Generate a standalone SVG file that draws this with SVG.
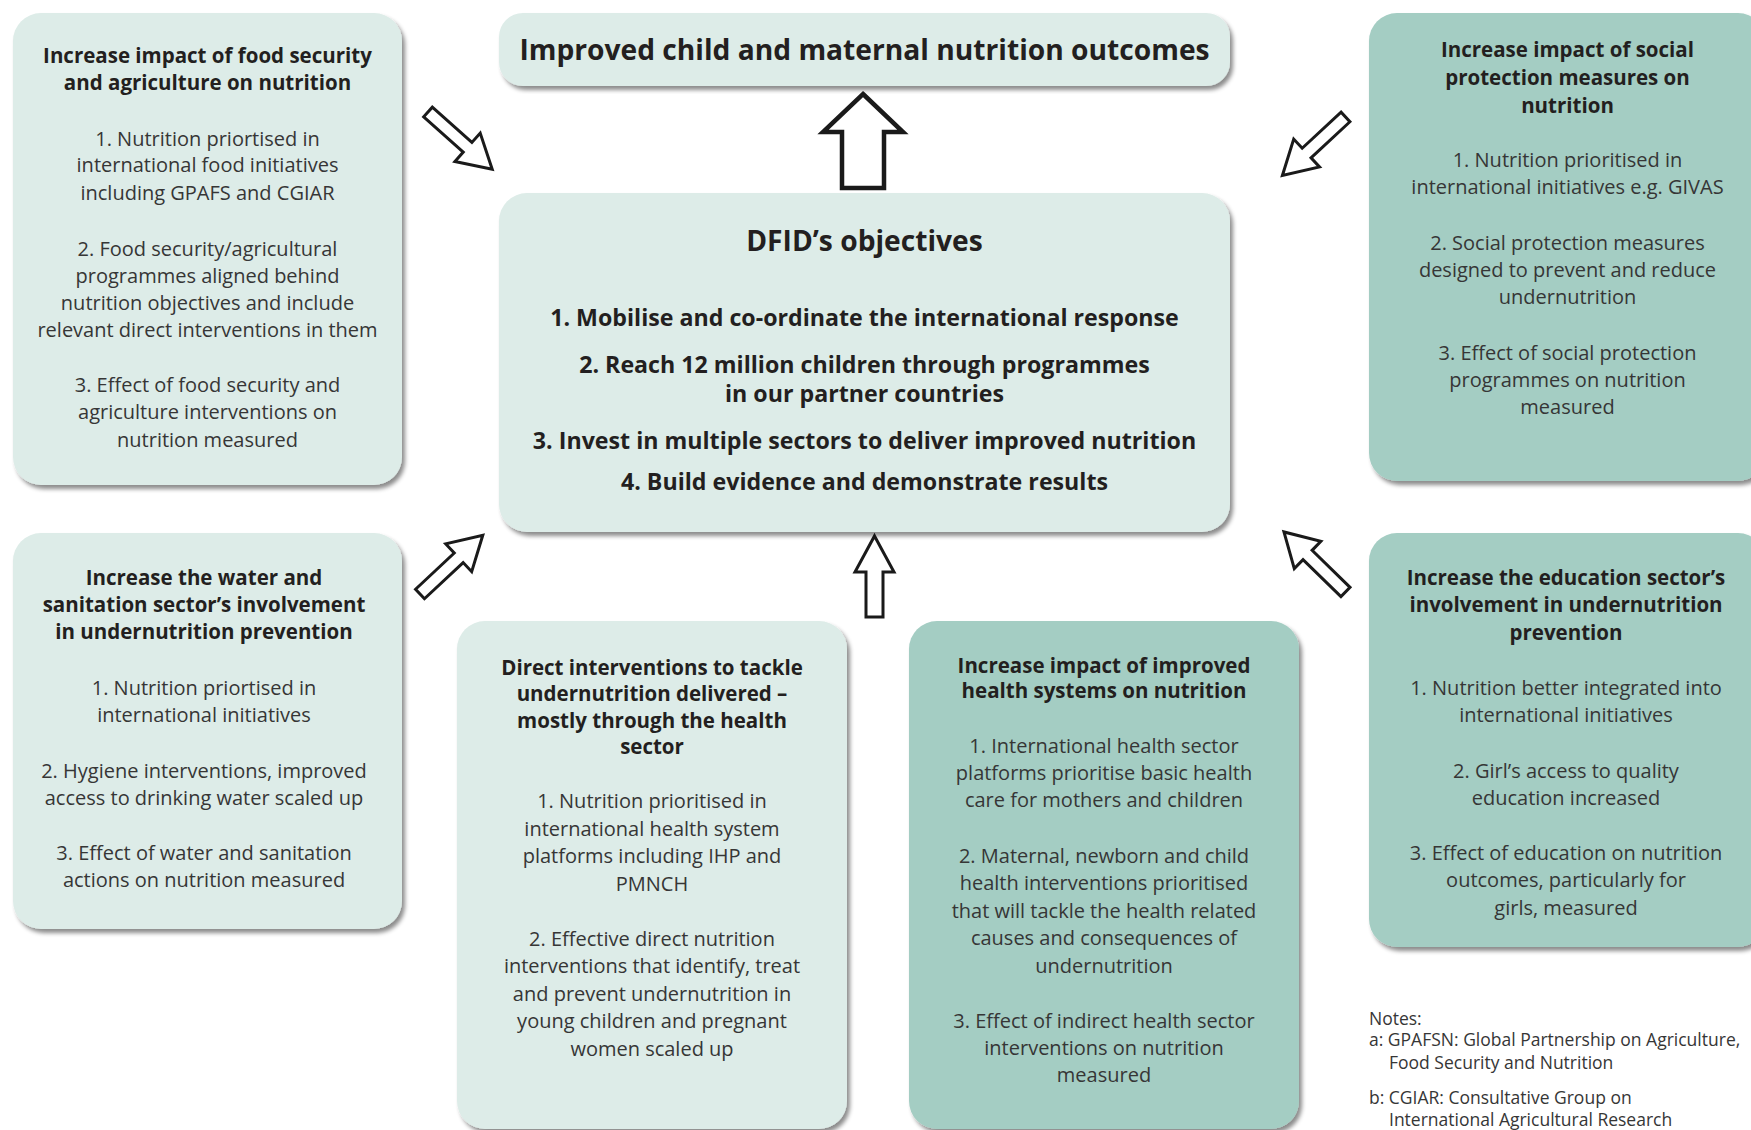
<svg xmlns="http://www.w3.org/2000/svg" xmlns:xlink="http://www.w3.org/1999/xlink" width="1751" height="1130" viewBox="0 0 1751 1130">
  <defs>
    <filter id="shadow" x="-5%" y="-5%" width="115%" height="115%">
      <feDropShadow dx="3" dy="4" stdDeviation="2.2" flood-color="#000" flood-opacity="0.45"/>
    </filter>
    <!-- hollow block arrow pointing along +x, tail at the origin -->
    <path id="darrow" d="M0,-6.5 H53 V-19 L86,0 L53,19 V6.5 H0 Z"/>
  </defs>
  <style>
    .light { fill: #ddece8; filter: url(#shadow); }
    .dark { fill: #a4cdc3; filter: url(#shadow); }
    text { font-family: "Open Sans", "Noto Sans", "DejaVu Sans", sans-serif; text-anchor: middle; }
    .h { font-size: 20.5px; font-weight: bold; fill: #231f20; }
    .b { font-size: 20px; fill: #363636; }
    .t { font-size: 28.2px; font-weight: bold; fill: #231f20; }
    .o { font-size: 23.2px; font-weight: bold; fill: #231f20; }
    .n { font-size: 17.5px; fill: #363636; text-anchor: start; }
    .arrow { fill: #ffffff; stroke: #1a1a1a; stroke-linejoin: miter; stroke-miterlimit: 10; }
  </style>
  <rect width="1751" height="1130" fill="#ffffff"/>

  <!-- connectors -->
  <g id="connectors" class="arrow">
    <path stroke-width="4.5" d="M863,94 L903,132 H884 V188 H842 V132 H823 Z"/>
    <path stroke-width="3" d="M874.5,536 L894,572 H883 V617 H866 V572 H855 Z"/>
    <use xlink:href="#darrow" stroke-width="3" transform="translate(428,112) rotate(41.7)"/>
    <use xlink:href="#darrow" stroke-width="3" transform="translate(1345.5,117) rotate(137.2)"/>
    <use xlink:href="#darrow" stroke-width="3" transform="translate(420,594) rotate(-43.1)"/>
    <use xlink:href="#darrow" stroke-width="3" transform="translate(1345.5,592) rotate(-135.7)"/>
  </g>

  <g id="outcome">
    <rect class="light" x="499" y="13" width="731" height="73" rx="24"/>
    <text class="t" x="864.5" y="60">Improved child and maternal nutrition outcomes</text>
  </g>

  <g id="dfid-objectives">
    <rect class="light" x="499" y="193" width="731" height="339" rx="28"/>
    <text class="t" x="864.5" y="250.7">DFID’s objectives</text>
    <text class="o" x="864.5" y="325.7">1. Mobilise and co-ordinate the international response</text>
    <text class="o" x="864.5" y="372.7">2. Reach 12 million children through programmes</text>
    <text class="o" x="864.5" y="401.7">in our partner countries</text>
    <text class="o" x="864.5" y="449.3">3. Invest in multiple sectors to deliver improved nutrition</text>
    <text class="o" x="864.5" y="490">4. Build evidence and demonstrate results</text>
  </g>

  <g id="food-security">
    <rect class="light" x="13" y="13" width="389" height="472" rx="28"/>
    <text class="h" x="207.5" y="62.7">Increase impact of food security</text>
    <text class="h" x="207.5" y="90">and agriculture on nutrition</text>
    <text class="b" x="207.5" y="145.7">1. Nutrition priortised in</text>
    <text class="b" x="207.5" y="172.3">international food initiatives</text>
    <text class="b" x="207.5" y="200">including GPAFS and CGIAR</text>
    <text class="b" x="207.5" y="255.7">2. Food security/agricultural</text>
    <text class="b" x="207.5" y="282.7">programmes aligned behind</text>
    <text class="b" x="207.5" y="310">nutrition objectives and include</text>
    <text class="b" x="207.5" y="336.7">relevant direct interventions in them</text>
    <text class="b" x="207.5" y="392.3">3. Effect of food security and</text>
    <text class="b" x="207.5" y="419.3">agriculture interventions on</text>
    <text class="b" x="207.5" y="446.7">nutrition measured</text>
  </g>

  <g id="social-protection">
    <rect class="dark" x="1369" y="13" width="397" height="468" rx="28"/>
    <text class="h" x="1567.5" y="57.3">Increase impact of social</text>
    <text class="h" x="1567.5" y="85">protection measures on</text>
    <text class="h" x="1567.5" y="112.7">nutrition</text>
    <text class="b" x="1567.5" y="167.3">1. Nutrition prioritised in</text>
    <text class="b" x="1567.5" y="194.3">international initiatives e.g. GIVAS</text>
    <text class="b" x="1567.5" y="250">2. Social protection measures</text>
    <text class="b" x="1567.5" y="277.3">designed to prevent and reduce</text>
    <text class="b" x="1567.5" y="304.3">undernutrition</text>
    <text class="b" x="1567.5" y="360">3. Effect of social protection</text>
    <text class="b" x="1567.5" y="386.7">programmes on nutrition</text>
    <text class="b" x="1567.5" y="414.3">measured</text>
  </g>

  <g id="water-sanitation">
    <rect class="light" x="13" y="533" width="389" height="396" rx="28"/>
    <text class="h" x="204" y="585">Increase the water and</text>
    <text class="h" x="204" y="612.3">sanitation sector’s involvement</text>
    <text class="h" x="204" y="639.3">in undernutrition prevention</text>
    <text class="b" x="204" y="695">1. Nutrition priortised in</text>
    <text class="b" x="204" y="722.3">international initiatives</text>
    <text class="b" x="204" y="777.7">2. Hygiene interventions, improved</text>
    <text class="b" x="204" y="805">access to drinking water scaled up</text>
    <text class="b" x="204" y="860">3. Effect of water and sanitation</text>
    <text class="b" x="204" y="887.3">actions on nutrition measured</text>
  </g>

  <g id="direct-interventions">
    <rect class="light" x="457" y="621" width="390" height="508" rx="28"/>
    <text class="h" x="652" y="675">Direct interventions to tackle</text>
    <text class="h" x="652" y="701.4">undernutrition delivered –</text>
    <text class="h" x="652" y="727.8">mostly through the health</text>
    <text class="h" x="652" y="753.8">sector</text>
    <text class="b" x="652" y="808">1. Nutrition prioritised in</text>
    <text class="b" x="652" y="835.6">international health system</text>
    <text class="b" x="652" y="863">platforms including IHP and</text>
    <text class="b" x="652" y="890.7">PMNCH</text>
    <text class="b" x="652" y="945.8">2. Effective direct nutrition</text>
    <text class="b" x="652" y="973">interventions that identify, treat</text>
    <text class="b" x="652" y="1000.6">and prevent undernutrition in</text>
    <text class="b" x="652" y="1027.7">young children and pregnant</text>
    <text class="b" x="652" y="1055.7">women scaled up</text>
  </g>

  <g id="health-systems">
    <rect class="dark" x="909" y="621" width="390" height="508" rx="28"/>
    <text class="h" x="1104" y="672.7">Increase impact of improved</text>
    <text class="h" x="1104" y="698">health systems on nutrition</text>
    <text class="b" x="1104" y="752.8">1. International health sector</text>
    <text class="b" x="1104" y="780">platforms prioritise basic health</text>
    <text class="b" x="1104" y="807">care for mothers and children</text>
    <text class="b" x="1104" y="862.7">2. Maternal, newborn and child</text>
    <text class="b" x="1104" y="890">health interventions prioritised</text>
    <text class="b" x="1104" y="917.8">that will tackle the health related</text>
    <text class="b" x="1104" y="944.8">causes and consequences of</text>
    <text class="b" x="1104" y="972.5">undernutrition</text>
    <text class="b" x="1104" y="1027.7">3. Effect of indirect health sector</text>
    <text class="b" x="1104" y="1054.7">interventions on nutrition</text>
    <text class="b" x="1104" y="1081.7">measured</text>
  </g>

  <g id="education">
    <rect class="dark" x="1369" y="533" width="397" height="414" rx="28"/>
    <text class="h" x="1566" y="585">Increase the education sector’s</text>
    <text class="h" x="1566" y="612.3">involvement in undernutrition</text>
    <text class="h" x="1566" y="640">prevention</text>
    <text class="b" x="1566" y="695">1. Nutrition better integrated into</text>
    <text class="b" x="1566" y="722.3">international initiatives</text>
    <text class="b" x="1566" y="777.7">2. Girl’s access to quality</text>
    <text class="b" x="1566" y="805">education increased</text>
    <text class="b" x="1566" y="860">3. Effect of education on nutrition</text>
    <text class="b" x="1566" y="887.3">outcomes, particularly for</text>
    <text class="b" x="1566" y="915">girls, measured</text>
  </g>

  <g id="notes">
    <text class="n" x="1369" y="1024.5">Notes:</text>
    <text class="n" x="1369" y="1046">a: GPAFSN: Global Partnership on Agriculture,</text>
    <text class="n" x="1389" y="1068.5">Food Security and Nutrition</text>
    <text class="n" x="1369" y="1103.5">b: CGIAR: Consultative Group on</text>
    <text class="n" x="1389" y="1125.5">International Agricultural Research</text>
  </g>
</svg>
